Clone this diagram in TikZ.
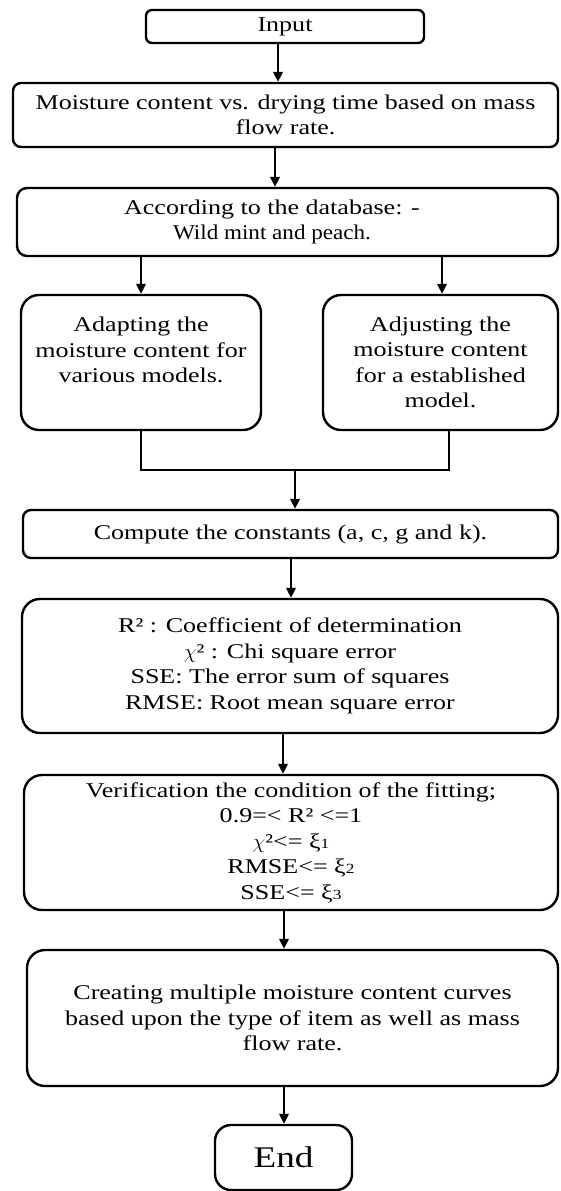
\documentclass[tikz,border=0pt]{standalone}
\usepackage{fontspec}
\setmainfont{Liberation Serif}[FakeStretch=1.24]
\newfontfamily\narrowf{Liberation Serif}[FakeStretch=1.1]
\usetikzlibrary{arrows.meta}
\newcommand{\smalldig}[1]{{\fontsize{14}{14}\selectfont #1}}
\newcommand{\chisym}{$\chi$}
\begin{document}
\begin{tikzpicture}[x=1pt,y=-1pt,
  box/.style={draw, line width=2.4pt, rounded corners=#1, inner sep=0pt, align=center,
    font=\fontsize{21}{25.5}\selectfont},
  box/.default=10pt,
  txt/.style={inner sep=0pt, align=center, font=\fontsize{21}{25.5}\selectfont},
  arr/.style={line width=2pt, -{Triangle[length=10pt,width=9.5pt]}},
  conn/.style={line width=2pt}]
\useasboundingbox (0,0) rectangle (560,1191);
\fill[white] (0,0) rectangle (560,1191);

% boxes
\node[box=6pt, minimum width=278pt, minimum height=33pt] (in) at (285,26.5) {Input};
\node[box=8pt, minimum width=545pt, minimum height=64pt] (moist) at (285.5,115)
  {Moisture content vs. drying time based on mass\\flow rate.};
\node[box=10pt, minimum width=541pt, minimum height=68pt] (db) at (287.5,222) {};
\node[txt] (dbt) at (272,222) {According to the database: -\\{\narrowf Wild mint and peach.}};
\node[box=18pt, minimum width=240pt, minimum height=135pt] (adapt) at (141,362.5)
  {Adapting the\\moisture content for\\various models.\\\mbox{}};
\node[box=18pt, minimum width=235pt, minimum height=135pt] (adjust) at (440.5,362.5)
  {Adjusting the\\moisture content\\for a established\\model.};
\node[box=8pt, minimum width=535pt, minimum height=48pt] (comp) at (290.5,534)
  {Compute the constants (a, c, g and k).};
\node[box=18pt, minimum width=536pt, minimum height=134pt] (err) at (290,666)
  {R² : Coefficient of determination\\\chisym² : Chi square error\\SSE: The error sum of squares\\RMSE: Root mean square error};
\node[box=18pt, minimum width=534pt, minimum height=135pt] (ver) at (291,842.5)
  {Verification the condition of the fitting;\\0.9=< R² <=1\\\chisym²<= ξ\smalldig{1}\\RMSE<= ξ\smalldig{2}\\SSE<= ξ\smalldig{3}};
\node[box=18pt, minimum width=531pt, minimum height=136pt] (cre) at (292.5,1018)
  {Creating multiple moisture content curves\\based upon the type of item as well as mass\\flow rate.};
\node[box=16pt, minimum width=137pt, minimum height=65pt, font=\fontsize{30}{30}\selectfont] (end) at (283.5,1157.5) {End};

% x positions of connectors
\coordinate (x1) at (278,0);
\coordinate (x2) at (275,0);
\coordinate (xl) at (141,0);
\coordinate (xr) at (442,0);
\coordinate (xr2) at (449,0);
\coordinate (m) at (295,470);
\coordinate (x3) at (291,0);
\coordinate (x4) at (283,0);
\coordinate (x5) at (284,0);

\draw[arr] (x1 |- in.south) -- (x1 |- moist.north);
\draw[arr] (x2 |- moist.south) -- (x2 |- db.north);
\draw[arr] (xl |- db.south) -- (xl |- adapt.north);
\draw[arr] (xr |- db.south) -- (xr |- adjust.north);
\draw[conn] (xl |- adapt.south) -- (xl |- m) -- (xr2 |- m) -- (xr2 |- adjust.south);
\draw[arr] (m) -- (m |- comp.north);
\draw[arr] (x3 |- comp.south) -- (x3 |- err.north);
\draw[arr] (x4 |- err.south) -- (x4 |- ver.north);
\draw[arr] (x5 |- ver.south) -- (x5 |- cre.north);
\draw[arr] (x5 |- cre.south) -- (x5 |- end.north);
\end{tikzpicture}
\end{document}
